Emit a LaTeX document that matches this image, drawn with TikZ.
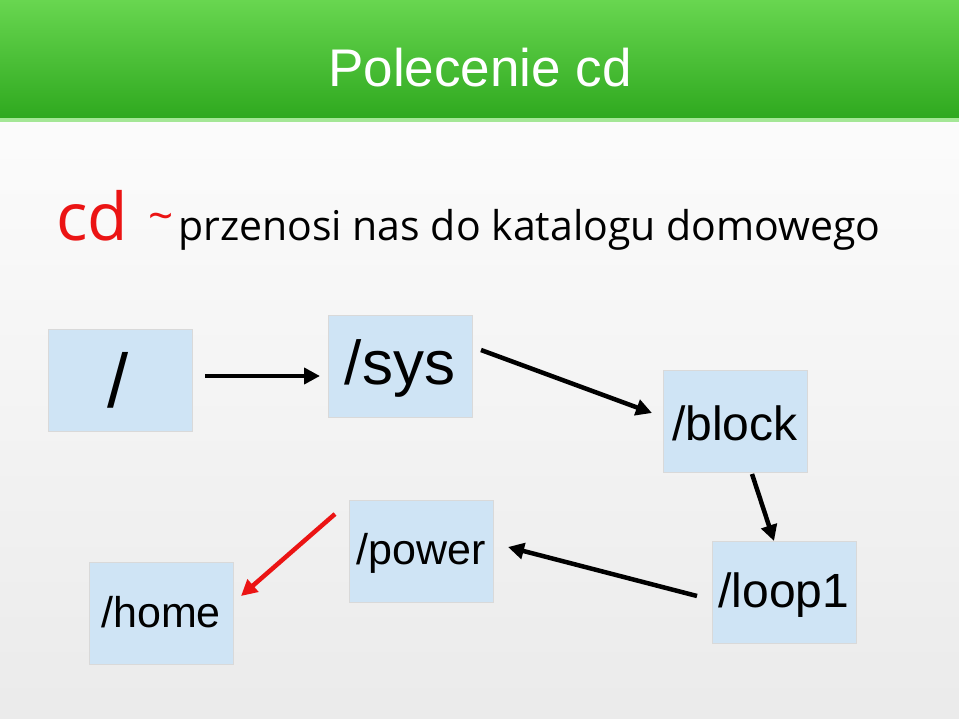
\documentclass[tikz,border=0pt]{standalone}
\usepackage{fontspec}
\setmainfont{Liberation Sans}
\newfontfamily\bodyfont{Open Sans}
\usetikzlibrary{arrows.meta}
\definecolor{boxblue}{RGB}{207,228,245}
\definecolor{barTop}{RGB}{104,214,80}
\definecolor{barBot}{RGB}{46,168,30}
\definecolor{cdred}{RGB}{235,20,20}
\tikzset{
	dirbox/.style={draw=black!15,fill=boxblue,minimum width=144pt,minimum height=102pt,inner sep=0pt},
	dirtext/.style={inner sep=0pt,font=\fontsize{#1}{#1}\selectfont},
	go/.style={line width=4.5pt,-{Triangle[length=16pt,width=16pt]}},
}
\begin{document}
\begin{tikzpicture}[x=1pt,y=-1pt]
	\useasboundingbox (0,0) rectangle (959,719);
	\shade[top color=white,bottom color=black!8] (0,0) rectangle (959,719);
	\shade[top color=barTop,bottom color=barBot] (0,0) rectangle (959,120);
	\fill[barTop!60] (0,118) rectangle (959,122);
	\node[text=white,font=\fontsize{53}{53}\selectfont] (title) at (480,68) {Polecenie cd};

	\node[anchor=base west,inner sep=0pt,text=cdred,font=\bodyfont\fontsize{66}{66}\selectfont] (cmd) at (56,241) {cd};
	\node[anchor=base west,inner sep=0pt,text=cdred,font=\bodyfont\fontsize{44}{44}\selectfont] (tilde) at (148,232) {\char`\~};
	\node[anchor=base west,inner sep=0pt,font=\bodyfont\fontsize{41}{41}\selectfont] (desc) at (178,241) {przenosi nas do katalogu domowego};

	% katalogi
	\node[dirbox] (root) at (120,380) {};
	\node[dirbox] (sys) at (400,366) {};
	\node[dirbox] (block) at (735,421) {};
	\node[dirbox] (loop) at (784,592) {};
	\node[dirbox] (power) at (421,551) {};
	\node[dirbox] (home) at (161,613) {};
	\node[dirtext=76] (rootT) at (118,380) {/};
	\node[dirtext=62] (sysT) at (400,368) {/sys};
	\node[dirtext=48] (blockT) at (735,423) {/block};
	\node[dirtext=48] (loopT) at (784,595) {/loop1};
	\node[dirtext=43] (powerT) at (421,553) {/power};
	\node[dirtext=43] (homeT) at (161,612) {/home};

	% strzalki
	\coordinate (a1) at (205,376); \coordinate (b1) at (320,376);
	\coordinate (a2) at (481,350); \coordinate (b2) at (652,413);
	\coordinate (a3) at (752,474); \coordinate (b3) at (774,541);
	\coordinate (a4) at (697,596); \coordinate (b4) at (508,547);
	\coordinate (a5) at (335,514); \coordinate (b5) at (241,596);
	\draw[go] (a1) -- (b1);
	\draw[go] (a2) -- (b2);
	\draw[go] (a3) -- (b3);
	\draw[go] (a4) -- (b4);
	\draw[go,cdred] (a5) -- (b5);
\end{tikzpicture}
\end{document}
